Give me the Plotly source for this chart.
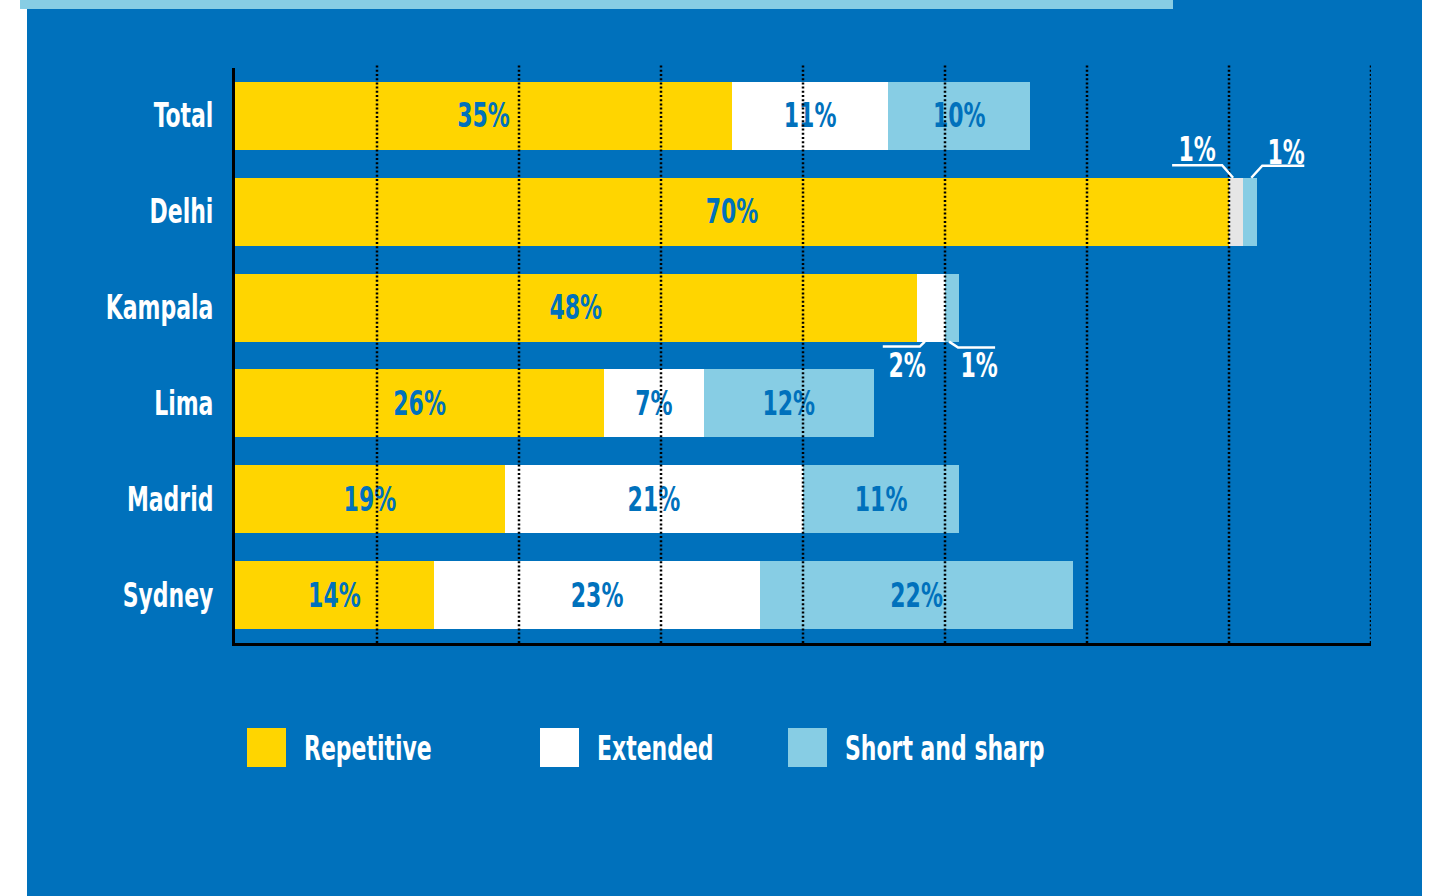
import json
import plotly.graph_objects as go

# ---------------- data ----------------
cities = ["Total", "Delhi", "Kampala", "Lima", "Madrid", "Sydney"]
repetitive = [35, 70, 48, 26, 19, 14]
extended = [11, 1, 2, 7, 21, 23]
short_sharp = [10, 1, 1, 12, 11, 22]
series_names = ["Repetitive", "Extended", "Short and sharp"]
grid_ticks = [10, 20, 30, 40, 50, 60, 70, 80]

# ---------------- style ----------------
BLUE = "#0071BC"
YELLOW = "#FFD500"
LIGHT = "#87CDE4"
WHITE = "#FFFFFF"
GREY = "#E6E6E6"
FONT = "DejaVu Sans Condensed, DejaVu Sans, sans-serif"
SQUEEZE = 0.74  # horizontal condensing of the text to mimic a condensed typeface
W, H = 1430, 896
L, R, T, B = 235, 1371, 68, 643
BARGAP = 0.29
HALF = (1 - BARGAP) / 2
ROW_PX = (B - T) / len(cities)
EDGE_PX = HALF * ROW_PX


def xp(px):
    return (px - L) / (R - L)


def yp(py):
    return (B - py) / (B - T)


def inside_labels(vals):
    return [f"{v}%" if v >= 5 else "" for v in vals]


ext_colors = [GREY if c == "Delhi" else WHITE for c in cities]
series = [
    (repetitive, [YELLOW] * len(cities)),
    (extended, ext_colors),
    (short_sharp, [LIGHT] * len(cities)),
]

fig = go.Figure()
for name, (vals, cols) in zip(series_names, series):
    fig.add_trace(go.Bar(
        name=name, y=cities, x=vals, orientation="h",
        marker=dict(color=cols, line=dict(width=0)),
        text=inside_labels(vals), textposition="inside",
        insidetextanchor="middle", textangle=0,
        textfont=dict(family=FONT, size=33, color=BLUE, weight="bold"),
        showlegend=False, hoverinfo="skip",
    ))

shapes = [
    dict(type="rect", xref="paper", yref="paper", x0=xp(27), x1=xp(1422),
         y0=yp(896), y1=yp(0), fillcolor=BLUE, line=dict(width=0), layer="below"),
    dict(type="rect", xref="paper", yref="paper", x0=xp(20), x1=xp(1173),
         y0=yp(9), y1=yp(0), fillcolor=LIGHT, line=dict(width=0), layer="below"),
]
for v in grid_ticks:
    shapes.append(dict(type="line", xref="x", yref="paper", x0=v, x1=v,
                       y0=0, y1=yp(65), layer="above",
                       line=dict(color="black", width=2.5, dash="2px,2.2px")))

annotations = []


def shift_path(pts, dy):
    out = []
    for k, (a, b) in enumerate(pts):
        out.append(("M" if k == 0 else "L") + f"{a},{b + dy}")
    return " ".join(out)


# small segments: labels outside with leader lines
for i, c in enumerate(cities):
    if extended[i] >= 5 and short_sharp[i] >= 5:
        continue
    e_c = repetitive[i] + extended[i] / 2
    s_c = repetitive[i] + extended[i] + short_sharp[i] / 2
    if c == "Delhi":  # labels above the bar
        edge = EDGE_PX
        items = [
            (e_c, extended[i], [(-64, 12.5), (-14, 12.5), (-3, 0)], -39, 28),
            (s_c, short_sharp[i], [(1, 0), (12, 12), (54, 12)], 36, 25),
        ]
    else:  # labels below the bar
        edge = -EDGE_PX
        items = [
            (e_c, extended[i], [(-48, -5), (-11, -5), (-6, 0)], -24, -24),
            (s_c, short_sharp[i], [(-3, 0), (6, -6), (43, -6)], 27, -24),
        ]
    for xc, v, pts, dx, dy in items:
        shapes.append(dict(type="path", xref="x", yref="y",
                           xsizemode="pixel", ysizemode="pixel",
                           xanchor=xc, yanchor=c, path=shift_path(pts, edge),
                           line=dict(color=WHITE, width=2.5), layer="above"))
        annotations.append(dict(x=xc, y=c, xref="x", yref="y",
                                xshift=dx, yshift=dy + edge,
                                text=f"{v}%", showarrow=False,
                                font=dict(family=FONT, size=33, color=WHITE, weight="bold")))

# manual legend (large square swatches)
legend_x = [247, 540, 788]
legend_cols = [YELLOW, WHITE, LIGHT]
for name, col, lx in zip(series_names, legend_cols, legend_x):
    shapes.append(dict(type="rect", xref="paper", yref="paper",
                       x0=xp(lx), x1=xp(lx + 39), y0=yp(767), y1=yp(728),
                       fillcolor=col, line=dict(width=0)))
    annotations.append(dict(x=xp(lx + 55), y=yp(748), xref="paper", yref="paper",
                            xanchor="left", yanchor="middle", text=name, showarrow=False,
                            font=dict(family=FONT, size=33, color=WHITE, weight="bold")))

fig.update_layout(
    width=W, height=H, barmode="stack", bargap=BARGAP,
    margin=dict(l=L, r=W - R, t=T, b=H - B, pad=0),
    paper_bgcolor=WHITE, plot_bgcolor="rgba(0,0,0,0)",
    shapes=shapes, annotations=annotations,
    xaxis=dict(range=[0, 80], showgrid=False, zeroline=False, showticklabels=False,
               showline=True, linecolor="black", linewidth=3, ticks="", layer="above traces",
               fixedrange=True),
    yaxis=dict(categoryorder="array", categoryarray=cities, autorange="reversed",
               showgrid=False, zeroline=False, showline=True, linecolor="black",
               linewidth=3, ticks="", ticklabelstandoff=12, layer="above traces",
               tickfont=dict(family=FONT, size=33, color=WHITE, weight="bold"),
               fixedrange=True),
)

POST = """
document.body.style.margin='0';
(function(){
  var k = %s;
  var leftKeep = %s;
  var gd = document.getElementById('{plot_id}');
  gd.querySelectorAll('.main-svg text').forEach(function(t){
    if(!t.textContent) return;
    var l = t.getComputedTextLength();
    if(!(l > 0)) return;
    t.setAttribute('lengthAdjust', 'spacingAndGlyphs');
    t.setAttribute('textLength', (l * k).toFixed(2));
    if(leftKeep.indexOf(t.textContent) >= 0){
      var dx = -(l - l * k) / 2;
      var tr = t.getAttribute('transform') || '';
      t.setAttribute('transform', tr + ' translate(' + dx.toFixed(2) + ',0)');
    }
  });
})();
""" % (SQUEEZE, json.dumps(series_names))

fig.write_html("out.html", config={"displayModeBar": False}, post_script=POST)
